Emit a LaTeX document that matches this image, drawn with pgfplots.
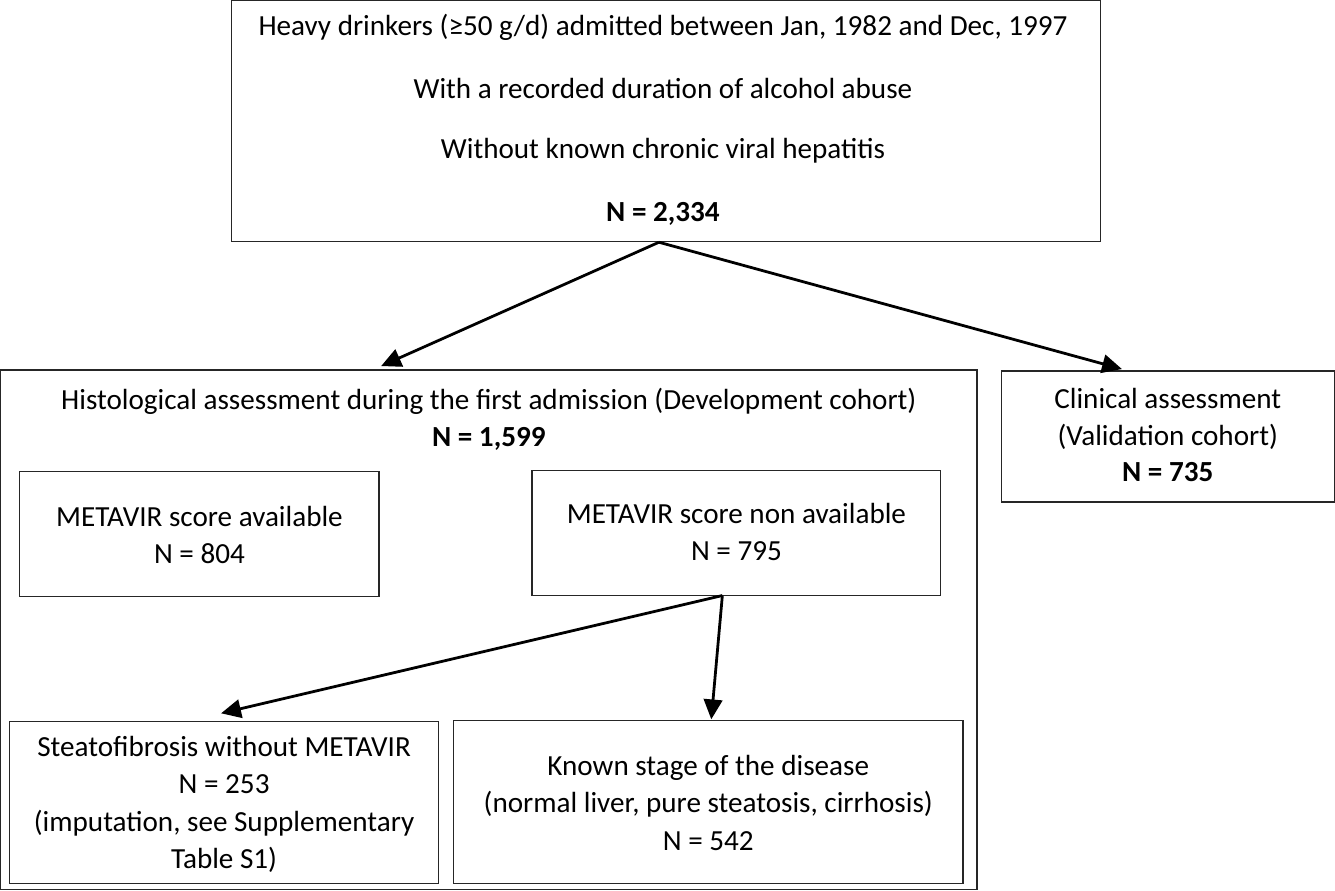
\documentclass[border=0pt]{standalone}
\usepackage{fontspec}
\setmainfont{Carlito}
\usepackage{pgfplots}
\pgfplotsset{compat=1.18}
\usetikzlibrary{arrows.meta}
\tikzset{
  boxline/.style={black!85, line width=0.5pt, line cap=rect, line join=miter, mark=none},
  arr/.style={black, line width=1.05pt, mark=none, -{Triangle[length=7.5pt,width=7pt]}},
  txt/.style={anchor=base, font=\fontsize{11}{14}\selectfont, inner sep=0pt},
}
\begin{document}
\begin{tikzpicture}
\begin{axis}[
  scale only axis, width=507.3pt, height=340.1pt,
  xmin=0, xmax=1335, ymin=0, ymax=895, y dir=reverse,
  hide axis, clip=false,
]
% boxes
\addplot[boxline] coordinates {(237,10) (1101,10) (1101,249) (237,249) (237,10)};
\addplot[boxline] coordinates {(8,377) (978,377) (978,893) (8,893) (8,377)};
\addplot[boxline] coordinates {(1002,378) (1333,378) (1333,508) (1002,508) (1002,378)};
\addplot[boxline] coordinates {(27,478) (384,478) (384,602) (27,602) (27,478)};
\addplot[boxline] coordinates {(536,477) (942,477) (942,601) (536,601) (536,477)};
\addplot[boxline] coordinates {(17,726) (443,726) (443,887) (17,887) (17,726)};
\addplot[boxline] coordinates {(458,725) (964,725) (964,887) (458,887) (458,725)};
% arrows
\addplot[arr] coordinates {(662,250) (386,373)};
\addplot[arr] coordinates {(662,250) (1122,376)};
\addplot[arr] coordinates {(725,601) (227,718)};
\addplot[arr] coordinates {(725,601) (714,724)};
% texts
\node[txt] at (axis cs:666,45) {Heavy drinkers (≥50 g/d) admitted between Jan, 1982 and Dec, 1997};
\node[txt] at (axis cs:666,107) {With a recorded duration of alcohol abuse};
\node[txt] at (axis cs:666,167) {Without known chronic viral hepatitis};
\node[txt] at (axis cs:666,229) {\textbf{N = 2,334}};
\node[txt] at (axis cs:493,416) {Histological assessment during the first admission (Development cohort)};
\node[txt] at (axis cs:493,453) {\textbf{N = 1,599}};
\node[txt] at (axis cs:205.5,532) {METAVIR score available};
\node[txt] at (axis cs:205.5,569) {N = 804};
\node[txt] at (axis cs:739,529) {METAVIR score non available};
\node[txt] at (axis cs:739,566) {N = 795};
\node[txt] at (axis cs:1167.5,415) {Clinical assessment};
\node[txt] at (axis cs:1167.5,452) {(Validation cohort)};
\node[txt] at (axis cs:1167.5,488) {\textbf{N = 735}};
\node[txt] at (axis cs:230,761) {Steatofibrosis without METAVIR};
\node[txt] at (axis cs:230,798) {N = 253};
\node[txt] at (axis cs:230,835) {(imputation, see Supplementary};
\node[txt] at (axis cs:230,872) {Table S1)};
\node[txt] at (axis cs:711,780) {Known stage of the disease};
\node[txt] at (axis cs:711,817) {(normal liver, pure steatosis, cirrhosis)};
\node[txt] at (axis cs:711,854) {N = 542};
\end{axis}
\end{tikzpicture}
\end{document}
